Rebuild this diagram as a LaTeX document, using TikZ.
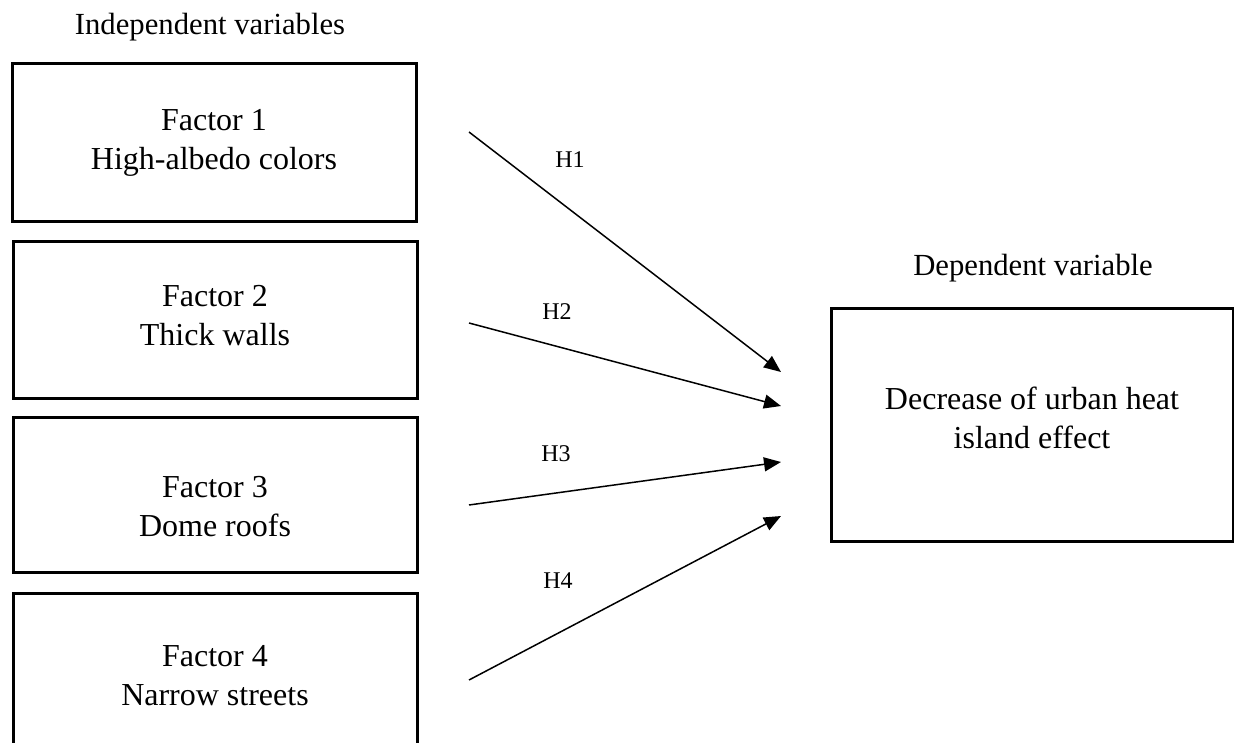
\documentclass[tikz,border=0pt]{standalone}
\usepackage{fontspec}
\setmainfont{Liberation Serif}
\usetikzlibrary{arrows.meta}
\tikzset{
  factorbox/.style={draw=black, line width=3pt, minimum width=404pt, inner sep=0pt, fill=white},
  boxtext/.style={align=center, font=\fontsize{32}{39}\selectfont, inner sep=0pt},
  titletext/.style={font=\fontsize{30.7}{36}\selectfont, inner sep=0pt},
  hlabel/.style={font=\fontsize{24}{28}\selectfont, inner sep=0pt},
  hyparrow/.style={line width=1.5pt, -{Triangle[length=17pt,width=14pt]}}
}
\begin{document}
\begin{tikzpicture}[x=1pt,y=-1pt]
\useasboundingbox (0,0) rectangle (1234,743);
\clip (0,0) rectangle (1234,743);
\fill[white] (0,0) rectangle (1234,743);

% titles
\node[titletext] (indep) at (210,27) {Independent variables};
\node[titletext] (dep) at (1033,268) {Dependent variable};

% independent boxes
\node[factorbox, minimum height=158pt] (f1) at (214,143) {};
\node[factorbox, minimum height=156pt] (f2) at (215,320) {};
\node[factorbox, minimum height=155pt] (f3) at (215,494.5) {};
\node[factorbox, minimum height=156pt] (f4) at (215,671) {};

\node[boxtext] (t1) at (214,143) {Factor 1\\High-albedo colors};
\node[boxtext] (t2) at (215,316) {Factor 2\\Thick walls};
\node[boxtext] (t3) at (215,507) {Factor 3\\Dome roofs};
\node[boxtext] (t4) at (215,676) {Factor 4\\Narrow streets};

% dependent box
\node[factorbox, minimum width=402pt, minimum height=232pt] (d) at (1032,425) {};
\node[boxtext] (td) at (1032,418) {Decrease of urban heat\\island effect};

% arrow end points
\coordinate (s1) at (469,132);
\coordinate (e1) at (781,372);
\coordinate (s2) at (469,323);
\coordinate (e2) at (781,406);
\coordinate (s3) at (469,505);
\coordinate (e3) at (781,462);
\coordinate (s4) at (469,680);
\coordinate (e4) at (781,516);

\draw[hyparrow] (s1) -- (e1);
\draw[hyparrow] (s2) -- (e2);
\draw[hyparrow] (s3) -- (e3);
\draw[hyparrow] (s4) -- (e4);

\node[hlabel] (h1) at (570,160) {H1};
\node[hlabel] (h2) at (557,312) {H2};
\node[hlabel] (h3) at (556,454) {H3};
\node[hlabel] (h4) at (558,581) {H4};
\end{tikzpicture}
\end{document}
